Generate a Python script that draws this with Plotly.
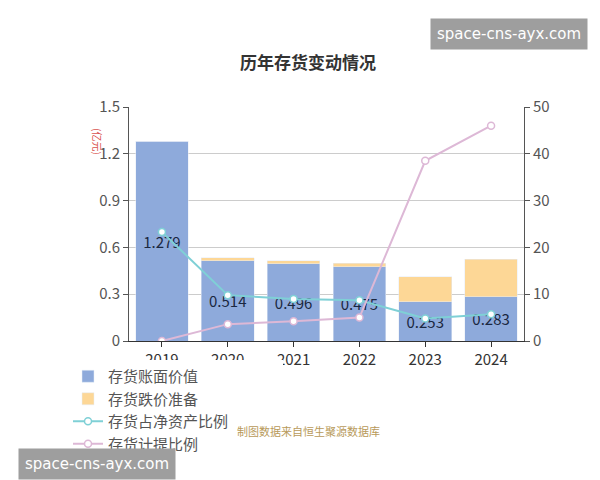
import plotly.graph_objects as go

years = ["2019", "2020", "2021", "2022", "2023", "2024"]
book_value = [1.279, 0.514, 0.496, 0.475, 0.253, 0.283]
reserve = [0.0, 0.02, 0.02, 0.025, 0.16, 0.24]
ratio_net_assets = [23.3, 9.8, 9.0, 8.7, 4.8, 5.7]
provision_ratio = [0.0, 3.6, 4.2, 5.0, 38.5, 46.0]

font = "Noto Sans CJK SC"
fig = go.Figure()
fig.add_trace(go.Bar(x=years, y=book_value, name="存货账面价值", marker_color="#8eaadb",
                     text=[f"{v:.3f}" for v in book_value], textposition="inside",
                     insidetextanchor="middle", textfont=dict(size=15, color="#1a2740"), width=0.8))
fig.add_trace(go.Bar(x=years, y=reserve, name="存货跌价准备", marker_color="#fdd796", width=0.8))
fig.add_trace(go.Scatter(x=years, y=ratio_net_assets, name="存货占净资产比例", yaxis="y2",
                         mode="lines+markers", line=dict(color="#7fd0d6", width=2),
                         marker=dict(size=7, color="white", line=dict(color="#7fd0d6", width=1.5))))
fig.add_trace(go.Scatter(x=years, y=provision_ratio, name="存货计提比例", yaxis="y2",
                         mode="lines+markers", line=dict(color="#ddb8d6", width=2),
                         marker=dict(size=7, color="white", line=dict(color="#ddb8d6", width=1.5))))

fig.update_layout(
    width=600, height=480, barmode="stack", plot_bgcolor="white", paper_bgcolor="white",
    font=dict(family=font, color="#333"),
    title=dict(text="<b>历年存货变动情况</b>", x=0.5, y=0.885, yanchor="middle",
               font=dict(size=17, color="#333")),
    margin=dict(l=121, r=84, t=99, b=147, autoexpand=False),
    xaxis=dict(showline=True, linecolor="#333", ticks="outside", tickcolor="#333",
               tickfont=dict(size=15, color="#333")),
    yaxis=dict(range=[0, 1.5], dtick=0.3, showgrid=True, gridcolor="#ccc", zeroline=False,
               showline=True, linecolor="#555", ticks="outside", tickcolor="#555",
               tickfont=dict(size=15, color="#555")),
    yaxis2=dict(range=[0, 50], dtick=10, overlaying="y", side="right", showgrid=False,
                showline=True, linecolor="#555", ticks="outside", tickcolor="#555",
                tickfont=dict(size=15, color="#555"), zeroline=False),
    legend=dict(orientation="h", x=60 / 600, xref="container", y=1 - 352 / 480, yref="container",
                xanchor="left", yanchor="top", traceorder="normal",
                font=dict(size=15, color="#555"), entrywidth=170, entrywidthmode="pixels"),
    annotations=[
        dict(text="(亿元)", x=-0.104, y=0.919, xref="paper", yref="paper", showarrow=False,
             textangle=90, font=dict(size=10, color="#d9534f")),
        dict(text="制图数据来自恒生聚源数据库", x=0.455, y=-0.427, xref="paper", yref="paper",
             showarrow=False, font=dict(size=11, color="#b89a5a")),
    ],
)
for (x, y, xa, ya) in [(1.162, 1.38, "right", "top"), (-0.281, -0.457, "left", "top")]:
    fig.add_annotation(text="space-cns-ayx.com", x=x, y=y, xref="paper", yref="paper",
                       xanchor=xa, yanchor=ya, showarrow=False, bgcolor="#9e9e9e",
                       font=dict(size=15, color="white", family="DejaVu Sans"), borderpad=6)
fig.write_html("out.html")
